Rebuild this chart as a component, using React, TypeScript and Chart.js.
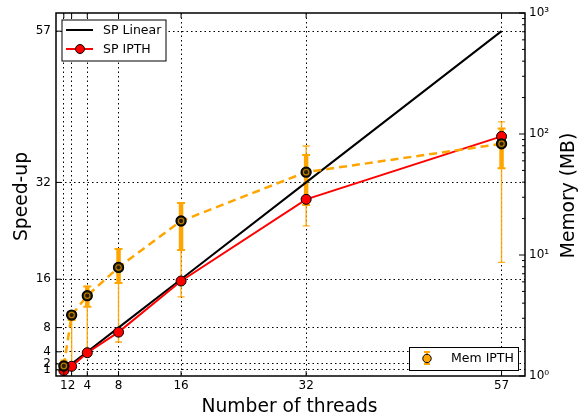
import React, { useEffect, useRef } from 'react';
import { Chart, registerables } from 'chart.js';
Chart.register(...registerables);

const threads = [1, 2, 4, 8, 16, 32, 57];
const spLinear = [1, 2, 4, 8, 16, 32, 57];
const spIpth = [0.9, 1.6, 3.85, 7.25, 15.7, 29.2, 39.6];
const memIpth = [1.21, 3.19, 4.61, 7.9, 19.1, 48.4, 83];
const memThickLo = [1.12, 2.9, 3.74, 5.87, 11.0, 25.9, 52];
const memThickHi = [1.3, 3.4, 5.5, 11.2, 26.9, 67, 111];
const memThinLo = [1.0, 1.19, 1.64, 1.91, 4.5, 17.4, 8.7];
const memThinHi = [1.35, 3.4, 5.5, 11.2, 26.9, 79.6, 126];
const speedTicks = [1, 2, 4, 8, 16, 32, 57];
const threadTicks = [1, 2, 4, 8, 16, 32, 57];
const memTicks = [1, 10, 100, 1000];
const memTickLabels = ['10⁰', '10¹', '10²', '10³'];

const ORANGE = '#FFA500';
const FAMILY = '"DejaVu Sans", sans-serif';
const f = (s: number) => `${s}px ${FAMILY}`;

const overlay = {
  id: 'overlay',
  beforeDatasetsDraw(chart: any) {
    const { ctx, chartArea: a, scales } = chart;
    const xs = scales.x, ys = scales.y2;
    ctx.save();
    ctx.beginPath();
    ctx.rect(a.left, a.top, a.right - a.left, a.bottom - a.top);
    ctx.clip();
    threads.forEach((t, i) => {
      const px = xs.getPixelForValue(t);
      const bar = (lo: number, hi: number, lw: number, cap: number, color: string, capLw: number) => {
        const y1 = ys.getPixelForValue(lo), y2 = ys.getPixelForValue(hi);
        ctx.strokeStyle = color;
        ctx.lineWidth = lw;
        ctx.beginPath(); ctx.moveTo(px, y1); ctx.lineTo(px, y2); ctx.stroke();
        ctx.lineWidth = capLw;
        ctx.beginPath();
        ctx.moveTo(px - cap, y1); ctx.lineTo(px + cap, y1);
        ctx.moveTo(px - cap, y2); ctx.lineTo(px + cap, y2);
        ctx.stroke();
      };
      bar(memThinLo[i], memThinHi[i], 1.4, 3.5, 'rgba(255,165,0,0.9)', 1.3);
      bar(memThickLo[i], memThickHi[i], 4.5, 4, ORANGE, 2);
    });
    ctx.restore();
  },
  afterDatasetsDraw(chart: any) {
    const { ctx } = chart;
    const meta = chart.getDatasetMeta(0);
    ctx.save();
    meta.data.forEach((el: any) => {
      ctx.strokeStyle = 'rgba(255,165,0,0.7)';
      ctx.lineWidth = 1.1;
      ctx.beginPath(); ctx.arc(el.x, el.y, 2.7, 0, Math.PI * 2); ctx.stroke();
    });
    ctx.restore();
  },
  afterDraw(chart: any) {
    const { ctx, chartArea: a, scales } = chart;
    ctx.save();
    // frame
    ctx.strokeStyle = '#000';
    ctx.lineWidth = 1.5;
    ctx.strokeRect(a.left, a.top, a.right - a.left, a.bottom - a.top);
    // inward ticks
    ctx.lineWidth = 1;
    ctx.beginPath();
    threadTicks.forEach(v => {
      const x = scales.x.getPixelForValue(v);
      ctx.moveTo(x, a.bottom); ctx.lineTo(x, a.bottom - 5);
      ctx.moveTo(x, a.top); ctx.lineTo(x, a.top + 5);
    });
    speedTicks.forEach(v => {
      const y = scales.y.getPixelForValue(v);
      ctx.moveTo(a.left, y); ctx.lineTo(a.left + 5, y);
    });
    for (let d = 1; d <= 1000; d *= 10) {
      const y = scales.y2.getPixelForValue(d);
      ctx.moveTo(a.right, y); ctx.lineTo(a.right - 6, y);
      if (d < 1000) {
        for (let m = 2; m <= 9; m++) {
          const ym = scales.y2.getPixelForValue(d * m);
          ctx.moveTo(a.right, ym); ctx.lineTo(a.right - 3, ym);
        }
      }
    }
    ctx.stroke();

    // axis titles
    ctx.fillStyle = '#000';
    ctx.font = f(18.7);
    ctx.textAlign = 'center';
    ctx.textBaseline = 'alphabetic';
    ctx.fillText('Number of threads', (a.left + a.right) / 2 - 1, 412);
    ctx.save();
    ctx.translate(27, (a.top + a.bottom) / 2 + 2);
    ctx.rotate(-Math.PI / 2);
    ctx.fillText('Speed-up', 0, 0);
    ctx.restore();
    ctx.save();
    ctx.translate(574, (a.top + a.bottom) / 2 + 1);
    ctx.rotate(-Math.PI / 2);
    ctx.fillText('Memory (MB)', 0, 0);
    ctx.restore();

    // legend 1
    ctx.fillStyle = '#fff';
    ctx.fillRect(62, 20, 104, 41);
    ctx.strokeStyle = '#000';
    ctx.lineWidth = 1;
    ctx.strokeRect(62, 20, 104, 41);
    ctx.lineWidth = 2;
    ctx.strokeStyle = '#000';
    ctx.beginPath(); ctx.moveTo(66, 30); ctx.lineTo(93, 30); ctx.stroke();
    ctx.strokeStyle = '#FF0000';
    ctx.beginPath(); ctx.moveTo(66, 49); ctx.lineTo(93, 49); ctx.stroke();
    ctx.fillStyle = '#FF0000';
    ctx.strokeStyle = '#000';
    ctx.lineWidth = 1;
    ctx.beginPath(); ctx.arc(80, 49, 4.5, 0, Math.PI * 2); ctx.fill(); ctx.stroke();
    ctx.fillStyle = '#000';
    ctx.font = f(12.5);
    ctx.textAlign = 'left';
    ctx.textBaseline = 'middle';
    ctx.fillText('SP Linear', 103, 31);
    ctx.fillText('SP IPTH', 103, 50);

    // legend 2
    ctx.fillStyle = '#fff';
    ctx.fillRect(409.5, 347.5, 109, 23);
    ctx.strokeStyle = '#000';
    ctx.lineWidth = 1;
    ctx.strokeRect(409.5, 347.5, 109, 23);
    ctx.strokeStyle = ORANGE;
    ctx.lineWidth = 2;
    ctx.beginPath();
    ctx.moveTo(427, 352); ctx.lineTo(427, 364);
    ctx.moveTo(424, 352); ctx.lineTo(430, 352);
    ctx.moveTo(424, 364); ctx.lineTo(430, 364);
    ctx.stroke();
    ctx.fillStyle = ORANGE;
    ctx.strokeStyle = '#000';
    ctx.lineWidth = 1;
    ctx.beginPath(); ctx.arc(427, 358.5, 4.2, 0, Math.PI * 2); ctx.fill(); ctx.stroke();
    ctx.fillStyle = '#000';
    ctx.font = f(12.5);
    ctx.fillText('Mem IPTH', 451, 359);
    ctx.restore();
  },
};

export default function App() {
  const ref = useRef<HTMLCanvasElement>(null);
  useEffect(() => {
    const canvas = ref.current!;
    const pts = (ys: number[]) => threads.map((t, i) => ({ x: t, y: ys[i] }));
    const gridCommon = { color: '#000', lineWidth: 1, drawTicks: false };
    const chart = new Chart(canvas, {
      type: 'line',
      data: {
        datasets: [
          {
            label: 'Mem IPTH', data: pts(memIpth), yAxisID: 'y2', order: 0,
            borderColor: ORANGE, borderWidth: 2.5, borderDash: [8, 5],
            pointRadius: 5, pointBackgroundColor: '#2a1f00', pointBorderColor: '#000', pointBorderWidth: 1.3,
          },
          {
            label: 'SP IPTH', data: pts(spIpth), yAxisID: 'y', order: 1,
            borderColor: '#FF0000', borderWidth: 2,
            pointRadius: 5, pointBackgroundColor: '#FF0000', pointBorderColor: '#000', pointBorderWidth: 1,
          },
          {
            label: 'SP Linear', data: pts(spLinear), yAxisID: 'y', order: 2,
            borderColor: '#000', borderWidth: 2, pointRadius: 0,
          },
        ],
      } as any,
      options: {
        responsive: false,
        animation: false,
        events: [],
        layout: { padding: { top: 13, left: 0, right: 0, bottom: 0 } },
        plugins: { legend: { display: false }, tooltip: { enabled: false } },
        scales: {
          x: {
            type: 'linear', position: 'bottom', min: 0, max: 60,
            afterBuildTicks: (s: any) => { s.ticks = threadTicks.map(v => ({ value: v })); },
            afterFit: (s: any) => { s.height = 42; s.paddingLeft = 0; s.paddingRight = 0; },
            ticks: { autoSkip: false, maxRotation: 0, color: '#000', font: { family: FAMILY, size: 12 }, padding: 3, callback: (v: any) => String(v) },
            grid: gridCommon,
            border: { display: false, dash: [1.5, 3] },
          },
          y: {
            type: 'linear', position: 'left', min: 0, max: 60,
            afterBuildTicks: (s: any) => { s.ticks = speedTicks.map(v => ({ value: v })); },
            afterFit: (s: any) => { s.width = 56; s.paddingTop = 0; s.paddingBottom = 0; },
            ticks: { autoSkip: false, color: '#000', font: { family: FAMILY, size: 12 }, padding: 5, callback: (v: any) => String(v) },
            grid: gridCommon,
            border: { display: false, dash: [1.5, 3] },
          },
          y2: {
            type: 'logarithmic', position: 'right', min: 1, max: 1000,
            afterBuildTicks: (s: any) => { s.ticks = memTicks.map(v => ({ value: v })); },
            afterFit: (s: any) => { s.width = 57; s.paddingTop = 0; s.paddingBottom = 0; },
            ticks: { autoSkip: false, color: '#000', font: { family: FAMILY, size: 12 }, padding: 4, callback: (v: any) => memTickLabels[memTicks.indexOf(Number(v))] ?? '' },
            grid: { display: false, drawTicks: false },
            border: { display: false },
          },
        },
      } as any,
      plugins: [overlay],
    });
    return () => chart.destroy();
  }, []);
  return (
    <div style={{ position: 'fixed', left: 0, top: 0, width: 582, height: 418, background: '#fff' }}>
      <canvas ref={ref} width={582} height={418} style={{ display: 'block' }} />
    </div>
  );
}
